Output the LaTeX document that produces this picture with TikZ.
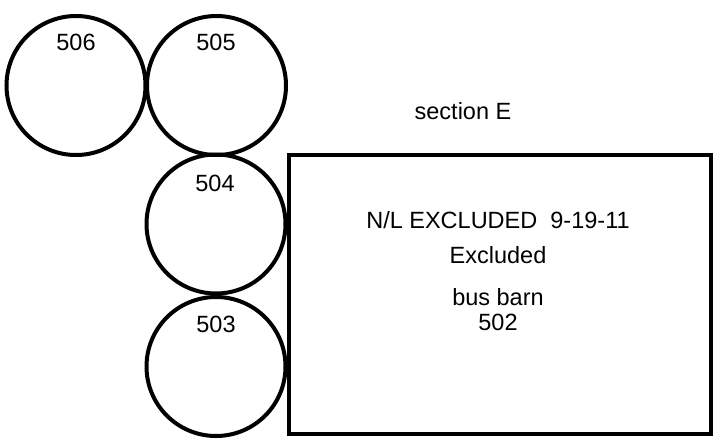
\documentclass[tikz,border=0pt]{standalone}
\usepackage{fontspec}
\setmainfont{Liberation Sans}
\usepackage{tikz}

\tikzset{
  tank/.style={line width=4pt},
  barn/.style={line width=3.6pt},
  lbl/.style={font=\fontsize{23.5}{25}\selectfont, inner sep=0pt, anchor=base}
}

\begin{document}
\begin{tikzpicture}[x=1pt,y=-1pt]
\useasboundingbox (0,0) rectangle (719,444);

% tanks
\draw[tank] (76,85.5) circle (69.5);
\node[lbl] (n506) at (76,50) {506};

\draw[tank] (216.5,85.5) circle (69.5);
\node[lbl] (n505) at (216,50) {505};

\draw[tank] (216,224) circle (69.5);
\node[lbl] (n504) at (215,191) {504};

\draw[tank] (216,366.5) circle (69.5);
\node[lbl] (n503) at (216,332) {503};

% bus barn
\draw[barn] (289,155) rectangle (711,434);
\node[lbl] (sec) at (463,119) {section E};
\node[lbl] (excl) at (498,228) {N/L EXCLUDED\ \ 9-19-11};
\node[lbl] (ex) at (498,263) {Excluded};
\node[lbl] (bus) at (498,305) {bus barn};
\node[lbl] (n502) at (498,330) {502};

\end{tikzpicture}
\end{document}
